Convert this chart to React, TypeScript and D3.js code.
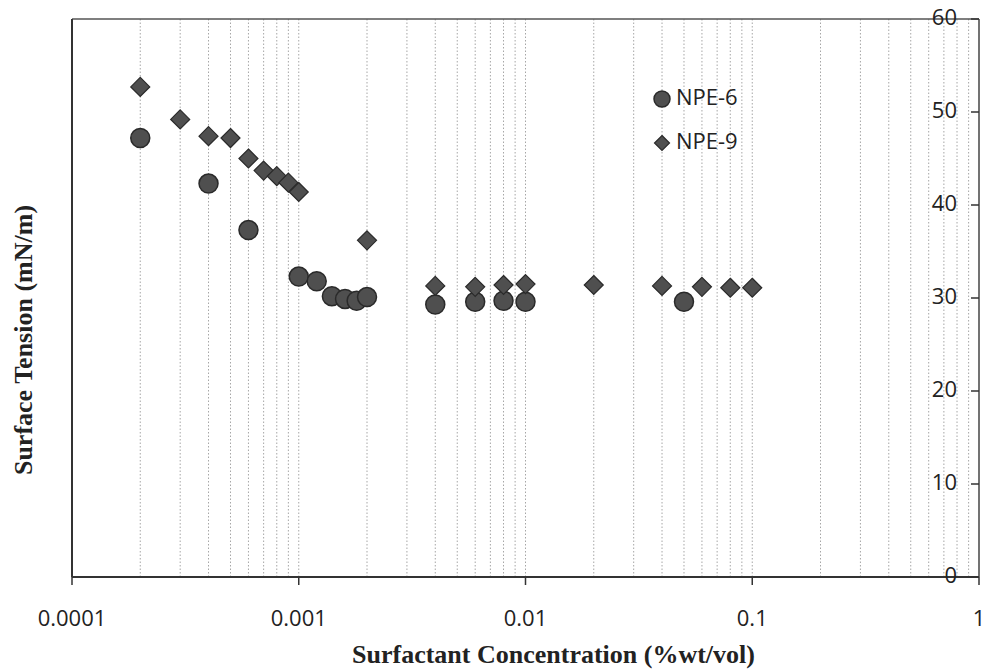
import React from 'react';
import * as d3 from 'd3';

// Surface tension vs concentration
const npe6Conc = [0.0002, 0.0004, 0.0006, 0.001, 0.0012, 0.0014, 0.0016, 0.0018, 0.002, 0.004, 0.006, 0.008, 0.01, 0.05];
const npe6Tension = [47.2, 42.3, 37.3, 32.3, 31.8, 30.2, 29.9, 29.7, 30.1, 29.3, 29.6, 29.7, 29.6, 29.6];

const npe9Conc = [0.0002, 0.0003, 0.0004, 0.0005, 0.0006, 0.0007, 0.0008, 0.0009, 0.001, 0.002, 0.004, 0.006, 0.008, 0.01, 0.02, 0.04, 0.06, 0.08, 0.1];
const npe9Tension = [52.7, 49.2, 47.4, 47.2, 45.0, 43.7, 43.1, 42.4, 41.4, 36.2, 31.3, 31.2, 31.4, 31.5, 31.4, 31.3, 31.2, 31.1, 31.1];

const xTicks = [0.0001, 0.001, 0.01, 0.1, 1];
const xTickLabels = ['0.0001', '0.001', '0.01', '0.1', '1'];
const yTicks = [0, 10, 20, 30, 40, 50, 60];

const seriesNames = ['NPE-6', 'NPE-9'];

const W = 984;
const H = 672;
const left = 72;
const right = 979;
const top = 19;
const bottom = 577;

const App: React.FC = () => {
  const x = d3.scaleLog().domain([0.0001, 1]).range([left, right]);
  const y = d3.scaleLinear().domain([0, 60]).range([bottom, top]);

  // grid lines at 1..9 in every decade
  const gridVals: number[] = [];
  for (let e = -4; e < 0; e++) {
    for (let m = 1; m <= 9; m++) gridVals.push(m * Math.pow(10, e));
  }

  const markFill = '#4f4f4f';
  const markStroke = '#2a2a2a';
  const diamondPath = (s: number) => `M0,${-s}L${s},0L0,${s}L${-s},0Z`;

  const sans = '"Open Sans", Calibri, sans-serif';
  const serif = '"Liberation Serif", "Times New Roman", serif';

  return (
    <svg width={W} height={H} style={{ position: 'absolute', left: 0, top: 0, background: '#fff' }}>
      {/* vertical grid */}
      {gridVals.map((v, i) => (
        <line key={i} x1={x(v)} x2={x(v)} y1={top} y2={bottom}
          stroke="#a6a6a6" strokeWidth={1} strokeDasharray="1.5,2" />
      ))}

      {/* frame */}
      <line x1={left} x2={right} y1={top} y2={top} stroke="#555" strokeWidth={1.5} />
      <line x1={left} x2={left} y1={top} y2={bottom} stroke="#333" strokeWidth={2} />
      <line x1={left} x2={right} y1={bottom} y2={bottom} stroke="#333" strokeWidth={2} />
      <line x1={right} x2={right} y1={top} y2={bottom} stroke="#444" strokeWidth={1.5} />

      {/* x axis ticks and labels */}
      {xTicks.map((v, i) => (
        <g key={v}>
          <line x1={x(v)} x2={x(v)} y1={bottom} y2={bottom + 8} stroke="#333" strokeWidth={1.5} />
          <text x={x(v)} y={620} textAnchor="middle" dominantBaseline="middle"
            fontFamily={sans} fontSize={22} fill="#222">{xTickLabels[i]}</text>
        </g>
      ))}

      {/* y axis (on the right) */}
      {yTicks.map((v) => (
        <g key={v}>
          <line x1={right - 8} x2={right} y1={y(v)} y2={y(v)} stroke="#333" strokeWidth={1.5} />
          <text x={957} y={y(v)} textAnchor="end" dominantBaseline="middle"
            fontFamily={sans} fontSize={22} fill="#222">{v}</text>
        </g>
      ))}

      {/* NPE-6 circles */}
      {npe6Conc.map((c, i) => (
        <circle key={'a' + i} cx={x(c)} cy={y(npe6Tension[i])} r={9.5}
          fill={markFill} stroke={markStroke} strokeWidth={1.5} />
      ))}

      {/* NPE-9 diamonds */}
      {npe9Conc.map((c, i) => (
        <path key={'b' + i} d={diamondPath(9.5)}
          transform={`translate(${x(c)},${y(npe9Tension[i])})`}
          fill={markFill} stroke={markStroke} strokeWidth={1.2} />
      ))}

      {/* legend */}
      <circle cx={662} cy={99} r={8} fill={markFill} stroke={markStroke} strokeWidth={1.5} />
      <text x={676} y={99} dominantBaseline="middle" fontFamily={sans} fontSize={22} fill="#222">{seriesNames[0]}</text>
      <path d={diamondPath(7.5)} transform="translate(662,143)" fill={markFill} stroke={markStroke} strokeWidth={1.2} />
      <text x={676} y={143} dominantBaseline="middle" fontFamily={sans} fontSize={22} fill="#222">{seriesNames[1]}</text>

      {/* axis titles */}
      <text x={(left + right) / 2 + 28} y={657} textAnchor="middle" dominantBaseline="middle"
        fontFamily={serif} fontWeight="bold" fontSize={26} fill="#222">
        Surfactant Concentration (%wt/vol)
      </text>
      <text transform="translate(26,340) rotate(-90)" textAnchor="middle" dominantBaseline="middle"
        fontFamily={serif} fontWeight="bold" fontSize={26} fill="#222">
        Surface Tension (mN/m)
      </text>
    </svg>
  );
};

export default App;
